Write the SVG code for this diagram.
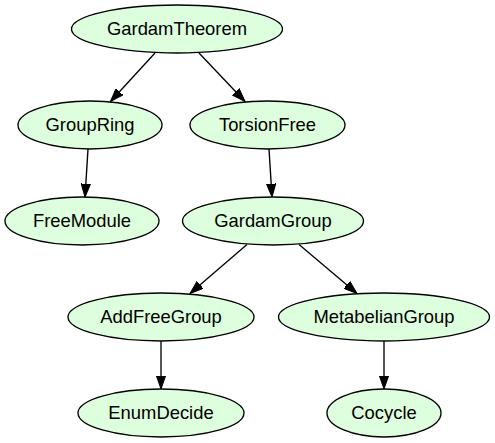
<svg xmlns="http://www.w3.org/2000/svg" width="495" height="443" viewBox="0 0 495 443">
<defs>
<marker id="arr" markerUnits="userSpaceOnUse" markerWidth="14" markerHeight="10" refX="13.3" refY="5" orient="auto" viewBox="0 0 14 10">
<path d="M0,0.33 L13.3,5 L0,9.67 z" fill="#000" stroke="#000" stroke-width="1"/>
</marker>
<style>
.n ellipse{fill:#ddffdd;stroke:#000;stroke-width:1.33}
.n text{font-family:"Liberation Sans",Arial,Helvetica,sans-serif;font-size:18.4px;text-anchor:middle;fill:#000}
.e line{stroke:#000;stroke-width:1.33;marker-end:url(#arr)}
</style>
</defs>
<rect width="495" height="443" fill="#fff"/>
<g id="edges" class="e">
<line x1="155" y1="53" x2="110.5" y2="101.5"/>
<line x1="199" y1="53" x2="245" y2="101.5"/>
<line x1="88" y1="149" x2="85" y2="197"/>
<line x1="269" y1="149" x2="272" y2="197"/>
<line x1="247" y1="244.5" x2="190" y2="293.5"/>
<line x1="299" y1="244.5" x2="357" y2="293.5"/>
<line x1="161" y1="341" x2="161" y2="389"/>
<line x1="384" y1="341" x2="384" y2="389"/>
</g>
<g id="GardamTheorem" class="n"><ellipse cx="177" cy="29" rx="105.5" ry="24"/><text x="177" y="35">GardamTheorem</text></g>
<g id="GroupRing" class="n"><ellipse cx="90" cy="125" rx="72" ry="24"/><text x="90" y="131">GroupRing</text></g>
<g id="TorsionFree" class="n"><ellipse cx="267.5" cy="125" rx="77.5" ry="24"/><text x="267.5" y="131">TorsionFree</text></g>
<g id="FreeModule" class="n"><ellipse cx="82" cy="221" rx="77" ry="24"/><text x="82" y="227">FreeModule</text></g>
<g id="GardamGroup" class="n"><ellipse cx="273" cy="221" rx="90.5" ry="24"/><text x="273" y="227">GardamGroup</text></g>
<g id="AddFreeGroup" class="n"><ellipse cx="161" cy="317" rx="93" ry="24"/><text x="161" y="323">AddFreeGroup</text></g>
<g id="MetabelianGroup" class="n"><ellipse cx="384" cy="317" rx="105.5" ry="24"/><text x="384" y="323">MetabelianGroup</text></g>
<g id="EnumDecide" class="n"><ellipse cx="161" cy="413" rx="83" ry="24"/><text x="161" y="419">EnumDecide</text></g>
<g id="Cocycle" class="n"><ellipse cx="384" cy="413" rx="57" ry="24"/><text x="384" y="419">Cocycle</text></g>
</svg>
